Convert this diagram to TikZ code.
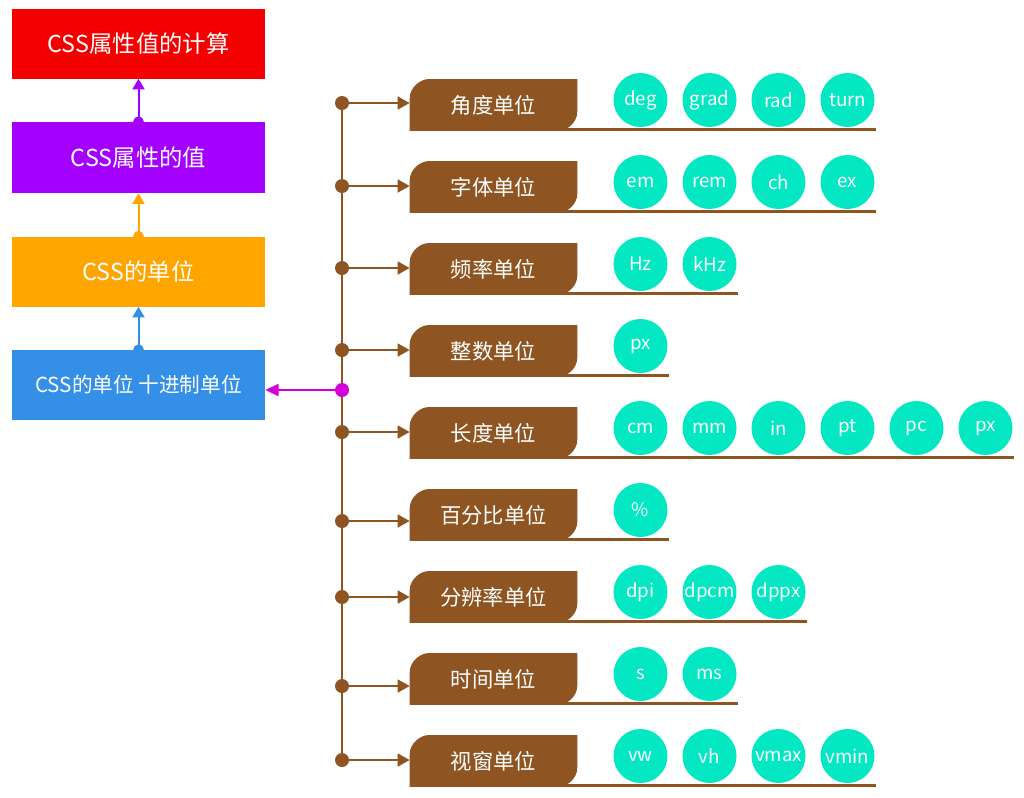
\documentclass[tikz,border=0pt]{standalone}
\usepackage{fontspec}
\setmainfont{Noto Sans CJK SC}
\usetikzlibrary{backgrounds,calc,arrows.meta}
\definecolor{cred}{HTML}{F40000}
\definecolor{cpurple}{HTML}{A300FF}
\definecolor{corange}{HTML}{FFA500}
\definecolor{cblue}{HTML}{3390E6}
\definecolor{cbrown}{HTML}{8E5522}
\definecolor{cteal}{HTML}{03E8C2}
\definecolor{cmag}{HTML}{D300DA}
\begin{document}
\begin{tikzpicture}[x=0.75pt,y=-0.75pt,
  box/.style={rectangle, minimum width=189.75pt, minimum height=52.5pt, inner sep=0pt, text=white, font=\fontsize{17.5}{20}\selectfont},
  tab/.style={rectangle, minimum width=125.25pt, minimum height=38.5pt, inner sep=0pt, text=white, font=\fontsize{16}{18}\selectfont},
  unit/.style={circle, fill=cteal, minimum size=40.5pt, inner sep=0pt, text=white, font=\fontsize{14}{16}\selectfont},
  dot/.style={circle, fill=cbrown, minimum size=10.5pt, inner sep=0pt},
  sdot/.style={circle, minimum size=8pt, inner sep=0pt},
  uparrow/.style={line width=1.5pt, -{Triangle[length=8pt,width=9pt]}},
  brarrow/.style={cbrown, line width=1.8pt, -{Triangle[length=9pt,width=9.5pt]}},
  uline/.style={cbrown, line width=2.3pt}
]
\useasboundingbox (0,0) rectangle (1024,797);
\begin{scope}[on background layer]
  \fill[white] (0,0) rectangle (1024,797);
\end{scope}

% left stack
\node[box, fill=cred] (b1) at (138.5,43.5) {CSS属性值的计算};
\node[box, fill=cpurple, minimum height=53.25pt] (b2) at (138.5,157.5) {CSS属性的值};
\node[box, fill=corange] (b3) at (138.5,271.5) {CSS的单位};
\node[box, fill=cblue, font=\fontsize{15.5}{18}\selectfont] (b4) at (138.5,385) {CSS的单位 十进制单位};

\node[sdot, fill=cpurple] (p2) at (b2.north) {};
\node[sdot, fill=corange] (p3) at (b3.north) {};
\node[sdot, fill=cblue] (p4) at (b4.north) {};
\draw[uparrow, cpurple] (p2.center) -- (b1.south);
\draw[uparrow, corange] (p3.center) -- (b2.south);
\draw[uparrow, cblue] (p4.center) -- (b3.south);

% rows
\foreach \i/\lab/\dy/\n/\units in {
1/角度单位/103/4/{deg,grad,rad,turn},
2/字体单位/186/4/{em,rem,ch,ex},
3/频率单位/268/2/{Hz,kHz},
4/整数单位/350/1/{px},
5/长度单位/432/6/{cm,mm,in,pt,pc,px},
6/百分比单位/521/1/{\%},
7/分辨率单位/597/3/{dpi,dpcm,dppx},
8/时间单位/686/2/{s,ms},
9/视窗单位/760/4/{vw,vh,vmax,vmin}}{
  \pgfmathsetmacro\ty{105+82*(\i-1)}
  \pgfmathsetmacro\len{167+69*(\n-1)+92}
  \node[tab] (t\i) at (493.5,\ty) {\lab};
  \begin{scope}[on background layer]
    \fill[cbrown] (t\i.south west) -- ($(t\i.north west)+(0,19)$)
      .. controls ($(t\i.north west)+(0,8.5)$) and ($(t\i.north west)+(10.5,0)$) .. ($(t\i.north west)+(19,0)$)
      -- (t\i.north east) -- ($(t\i.south east)+(0,-19)$)
      .. controls ($(t\i.south east)+(0,-8.5)$) and ($(t\i.south east)+(-10.5,0)$) .. ($(t\i.south east)+(-19,0)$)
      -- cycle;
  \end{scope}
  \draw[uline] ($(t\i.south west)+(0,-1.5)$) -- ++(\len,0);
  \foreach \u [count=\k] in \units {
    \node[unit] (c\i-\k) at ({640.5+69*(\k-1)},{\ty-5}) {\u};
  }
  \node[dot] (d\i) at (342,\dy) {};
}

\begin{scope}[on background layer]
  \draw[cbrown, line width=1.8pt] (d1.center) -- (d9.center);
\end{scope}
\foreach \i in {1,...,9}{
  \draw[brarrow] (d\i.center) -- (d\i.center -| t\i.west);
}

\node[dot, fill=cmag] (m) at (342,390) {};
\draw[cmag, line width=1.5pt, -{Triangle[length=10pt,width=9pt]}] (m.center) -- (b4.east |- m.center);
\end{tikzpicture}
\end{document}
